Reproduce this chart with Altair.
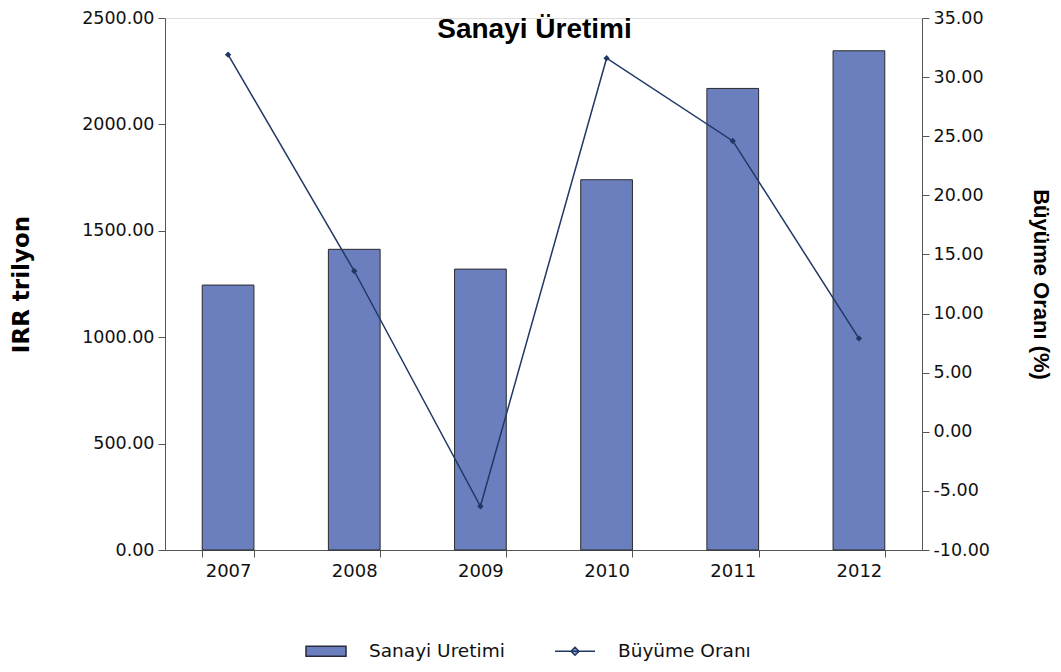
import altair as alt
import pandas as pd

years = ["2007", "2008", "2009", "2010", "2011", "2012"]
production = [1245, 1413, 1320, 1740, 2169, 2346]
growth = [31.9, 13.6, -6.3, 31.6, 24.6, 7.9]
series_names = ["Sanayi Uretimi", "Büyüme Oranı"]
left_ticks = [0, 500, 1000, 1500, 2000, 2500]
right_ticks = [-10, -5, 0, 5, 10, 15, 20, 25, 30, 35]
chart_title = ["Sanayi Üretimi"]

df = pd.DataFrame({"year": years, "production": production, "growth": growth})
legend_df = pd.DataFrame({"series": series_names})
title_df = pd.DataFrame({"t": chart_title})

FONT = "DejaVu Sans"
BOLD_FONT = "Liberation Sans"
BAR_FILL = "#6b7fbf"
LINE_COL = "#1f3864"
AXIS_COL = "#555555"
W, H = 757, 532
LABEL_EXPR = "(datum.value < 0 ? '-' : '') + format(abs(datum.value), '.2f')"

x_enc = alt.X(
    "year:N",
    title=None,
    scale=alt.Scale(paddingInner=0.59, paddingOuter=0.295),
    axis=alt.Axis(labelAngle=0, tickBand="extent", labelFontSize=18, labelPadding=5,
                  labelFont=FONT, tickSize=7, labelColor="#111111",
                  domainColor=AXIS_COL, tickColor=AXIS_COL),
)

bars = alt.Chart(df).mark_bar(fill=BAR_FILL, stroke="#2a2a2a", strokeWidth=1).encode(
    x=x_enc,
    y=alt.Y(
        "production:Q",
        title="IRR trilyon",
        scale=alt.Scale(domain=[0, 2500], nice=False),
        axis=alt.Axis(values=left_ticks, labelExpr=LABEL_EXPR, orient="left", grid=False,
                      labelFont=FONT, labelFontSize=17.5, labelColor="#111111",
                      labelPadding=4, tickSize=7, domainColor=AXIS_COL, tickColor=AXIS_COL,
                      titleFont=FONT, titleFontSize=23, titleFontWeight="bold",
                      titleColor="#000000", titlePadding=48),
    ),
)

line = alt.Chart(df).mark_line(
    color=LINE_COL, strokeWidth=1.5,
    point=alt.OverlayMarkDef(shape="diamond", filled=True, size=40, color=LINE_COL),
).encode(
    x=alt.X("year:N"),
    y=alt.Y(
        "growth:Q",
        title="Büyüme Oranı (%)",
        scale=alt.Scale(domain=[-10, 35], nice=False),
        axis=alt.Axis(values=right_ticks, labelExpr=LABEL_EXPR, orient="right", grid=False,
                      labelFont=FONT, labelFontSize=17.5, labelColor="#111111",
                      labelPadding=4, tickSize=7, domainColor=AXIS_COL, tickColor=AXIS_COL,
                      titleFont=BOLD_FONT, titleFontSize=22, titleFontWeight="bold",
                      titleColor="#000000", titlePadding=39),
    ),
)

title_layer = alt.Chart(title_df).mark_text(
    font=BOLD_FONT, fontSize=28, fontWeight="bold", color="#000000",
    align="center", baseline="middle",
).encode(text="t:N", x=alt.value(W / 2 - 9), y=alt.value(12))

legend_layer = alt.Chart(legend_df).mark_point(filled=True, opacity=1).encode(
    fill=alt.Fill("series:N", title=None,
                  scale=alt.Scale(domain=series_names, range=[BAR_FILL, "#8d9cc8"]),
                  legend=alt.Legend(orient="none", legendX=140, legendY=612,
                                    direction="horizontal", symbolSize=1600,
                                    symbolStrokeWidth=1.5, labelFontSize=18.5,
                                    labelFont=FONT, labelColor="#111111",
                                    labelOffset=22, columnPadding=47, symbolOpacity=1)),
    stroke=alt.Stroke("series:N", title=None,
                      scale=alt.Scale(domain=series_names, range=["#2a2a3a", LINE_COL]),
                      legend=alt.Legend(orient="none", legendX=140, legendY=612)),
    shape=alt.Shape("series:N", title=None,
                    scale=alt.Scale(domain=series_names,
                                    range=["M-1,-0.25H1V0.25H-1Z",
                                           "M-1,0H1M0,-0.2L0.2,0L0,0.2L-0.2,0Z"]),
                    legend=alt.Legend(orient="none", legendX=140, legendY=612)),
).transform_filter("false")

chart = alt.layer(bars, line, title_layer, legend_layer).resolve_scale(y="independent").properties(
    width=W,
    height=H,
    autosize=alt.AutoSizeParams(type="none"),
    padding={"left": 157, "top": 10, "right": 131, "bottom": 114},
).configure_view(stroke=AXIS_COL, strokeWidth=1).configure(font=FONT)

chart.save("out.html", embed_options={"renderer": "svg", "actions": False})
